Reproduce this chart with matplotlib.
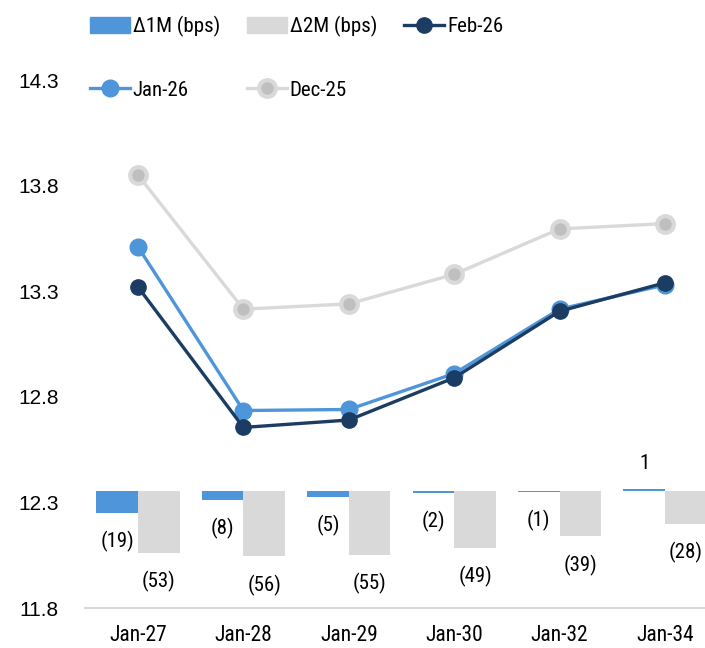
import matplotlib.pyplot as plt
from matplotlib.patches import Patch
from matplotlib.lines import Line2D

tenors = ['Jan-27', 'Jan-28', 'Jan-29', 'Jan-30', 'Jan-32', 'Jan-34']

feb26 = [13.32, 12.655, 12.69, 12.89, 13.205, 13.34]
jan26 = [13.51, 12.735, 12.74, 12.91, 13.215, 13.33]
dec25 = [13.85, 13.215, 13.24, 13.38, 13.595, 13.62]

d1m = [-19, -8, -5, -2, -1, 1]
d2m = [-53, -56, -55, -49, -39, -28]

yticks = [11.8, 12.3, 12.8, 13.3, 13.8, 14.3]

navy = '#1B3C63'
blue = '#4E95D9'
grey = '#D9D9D9'
narrow = ['Roboto Condensed', 'DejaVu Sans']

fig = plt.figure(figsize=(7.05, 6.48), dpi=100)
ax = fig.add_axes([85.3 / 705, 1 - 608 / 648, 632.4 / 705, 528 / 648])
ax2 = ax.twinx()

x = list(range(len(tenors)))
w = 0.395

# bars on the hidden secondary axis
ax2.bar([i - w / 2 for i in x], d1m, width=w, color=blue, zorder=2)
ax2.bar([i + w / 2 for i in x], d2m, width=w, color=grey, zorder=2)
ax2.set_ylim(-100, 350)
ax2.set_yticks([])
for s in ax2.spines.values():
    s.set_visible(False)

def fmt(v):
    return f'({abs(v)})' if v < 0 else f'{v}'

for vals, off in [(d1m, -w / 2), (d2m, w / 2)]:
    for i, v in enumerate(vals):
        if v < 0:
            ax2.annotate(fmt(v), (i + off, v), xytext=(0, -13), textcoords='offset points',
                         ha='center', va='top', fontsize=15, family=narrow)
        else:
            ax2.annotate(fmt(v), (i + off, v), xytext=(0, 12), textcoords='offset points',
                         ha='center', va='bottom', fontsize=15, family=narrow)

# lines
ax.plot(x, dec25, color=grey, lw=2.4, marker='o', ms=12, mfc='#BFBFBF', mec=grey, mew=3, zorder=3)
ax.plot(x, jan26, color=blue, lw=2.4, marker='o', ms=12, mfc=blue, mec=blue, zorder=4)
ax.plot(x, feb26, color=navy, lw=2.4, marker='o', ms=11, mfc=navy, mec=navy, zorder=5)

ax.set_xlim(-0.5, len(tenors) - 0.5)
ax.set_ylim(11.8, 14.3)
ax.set_yticks(yticks)
ax.set_yticklabels([f'{t:.1f}' for t in yticks], fontsize=15, family='Liberation Sans')
ax.set_xticks(x)
ax.set_xticklabels(tenors, fontsize=15.5, family=narrow)
ax.tick_params(axis='y', length=0, pad=19)
ax.tick_params(axis='x', length=0, pad=12)
for k in ['top', 'right', 'left']:
    ax.spines[k].set_visible(False)
ax.spines['bottom'].set_color(grey)
ax.spines['bottom'].set_linewidth(1.5)
ax.set_zorder(ax2.get_zorder() + 1)
ax.patch.set_visible(False)

handles = [
    Patch(color=blue),
    Line2D([], [], color=blue, lw=2.4, marker='o', ms=12, mfc=blue, mec=blue),
    Patch(color=grey),
    Line2D([], [], color=grey, lw=2.4, marker='o', ms=12, mfc='#BFBFBF', mec=grey, mew=3),
    Line2D([], [], color=navy, lw=2.4, marker='o', ms=11, mfc=navy, mec=navy),
]
labels = ['Δ1M (bps)', 'Jan-26', 'Δ2M (bps)', 'Dec-25', 'Feb-26']
fig.legend(handles, labels, ncol=3, loc='upper left', bbox_to_anchor=(90 / 705, 1 - 16 / 648),
           frameon=False, prop={'family': narrow, 'size': 15}, handlelength=1.9,
           handleheight=0.8, handletextpad=0.15, columnspacing=1.3, labelspacing=2.1,
           borderaxespad=0, borderpad=0)

fig.savefig('out.png', dpi=100)
